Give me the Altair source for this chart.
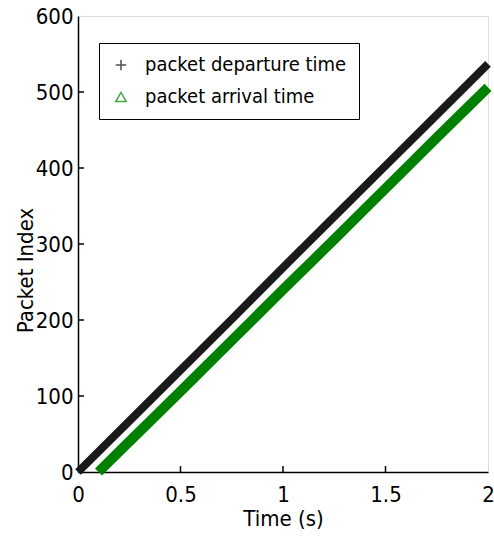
import altair as alt
import pandas as pd

# Read-off points (time in s, packet index)
dep_time = [0.0, 0.25, 0.5, 0.75, 1.0, 1.25, 1.5, 1.75, 2.0]
dep_index = [0, 67, 134, 201, 269, 336, 403, 470, 537]
arr_time = [0.1, 0.25, 0.5, 0.75, 1.0, 1.25, 1.5, 1.75, 2.0]
arr_index = [0, 40, 106, 173, 240, 306, 373, 440, 506]

series = ["packet departure time", "packet arrival time"]
x_ticks = [0, 0.5, 1, 1.5, 2]
y_ticks = [0, 100, 200, 300, 400, 500, 600]

df = pd.concat([
    pd.DataFrame({"t": dep_time, "idx": dep_index, "s": series[0]}),
    pd.DataFrame({"t": arr_time, "idx": arr_index, "s": series[1]}),
])

W, H = 410, 456
FONT = "DejaVu Sans Condensed, Liberation Sans Narrow, Liberation Sans"
GREEN = "#008000"
BLACK = "#1a1a1a"

xs = alt.Scale(domain=[0, 2], nice=False)
ys = alt.Scale(domain=[0, 600], nice=False)

xax = alt.Axis(values=x_ticks, tickSize=0, labelFontSize=22, titleFontSize=22,
               labelPadding=12, title="Time (s)", titlePadding=3, grid=False,
               labelFont=FONT, titleFont=FONT, titleFontWeight="normal",
               domainColor="black", domainWidth=1.5, labelColor="black", titleColor="black",
               format="~g", labelFlush=False)
yax = alt.Axis(values=y_ticks, tickSize=0, labelFontSize=22, titleFontSize=22,
               labelPadding=5, title="Packet Index", grid=False,
               titleX=-53, titleY=254, titleAlign="center", titleBaseline="middle",
               labelFont=FONT, titleFont=FONT, titleFontWeight="normal",
               domainColor="black", domainWidth=1.5, labelColor="black", titleColor="black",
               labelFlush=False)

base = alt.Chart(df)

legend_layer = base.transform_filter("false").mark_point(filled=False, size=60, strokeWidth=1.5).encode(
    x=alt.X("t:Q", scale=xs, axis=xax),
    y=alt.Y("idx:Q", scale=ys, axis=yax),
    color=alt.Color("s:N", scale=alt.Scale(domain=series, range=["#000000", GREEN])).legend(
        title=None, orient="none", legendX=21, legendY=27,
        labelFontSize=20, labelFont=FONT, labelColor="black", labelLimit=400,
        strokeColor="black", fillColor="white", padding=12,
        rowPadding=12, symbolSize=110, symbolStrokeWidth=1.5,
        labelOffset=14, offset=0,
    ),
    shape=alt.Shape("s:N", scale=alt.Scale(domain=series,
                    range=["M-1,0L1,0M0,-1L0,1", "triangle-up"]), legend=None),
)

dep_line = alt.Chart(df).transform_filter(alt.datum.s == series[0]).mark_line(
    strokeWidth=8, color=BLACK).encode(x=alt.X("t:Q", scale=xs), y=alt.Y("idx:Q", scale=ys))
arr_line = alt.Chart(df).transform_filter(alt.datum.s == series[1]).mark_line(
    strokeWidth=10, color=GREEN).encode(x=alt.X("t:Q", scale=xs), y=alt.Y("idx:Q", scale=ys))

xt = alt.Chart(pd.DataFrame({"v": x_ticks[1:-1]})).mark_rule(color="black", strokeWidth=1.5).encode(
    x=alt.X("v:Q", scale=xs), y=alt.value(H), y2=alt.value(H - 6))
yt = alt.Chart(pd.DataFrame({"v": y_ticks[1:-1]})).mark_rule(color="black", strokeWidth=1.5).encode(
    y=alt.Y("v:Q", scale=ys), x=alt.value(0), x2=alt.value(6))

chart = alt.layer(legend_layer, dep_line, arr_line, xt, yt).properties(
    width=W, height=H, autosize=alt.AutoSizeParams(type="none"),
    padding={"left": 78, "top": 16, "right": 6, "bottom": 71},
).configure_view(stroke="black", strokeWidth=1.5).configure(background="white")

chart.save("out.html", embed_options={"renderer": "svg", "actions": False})
